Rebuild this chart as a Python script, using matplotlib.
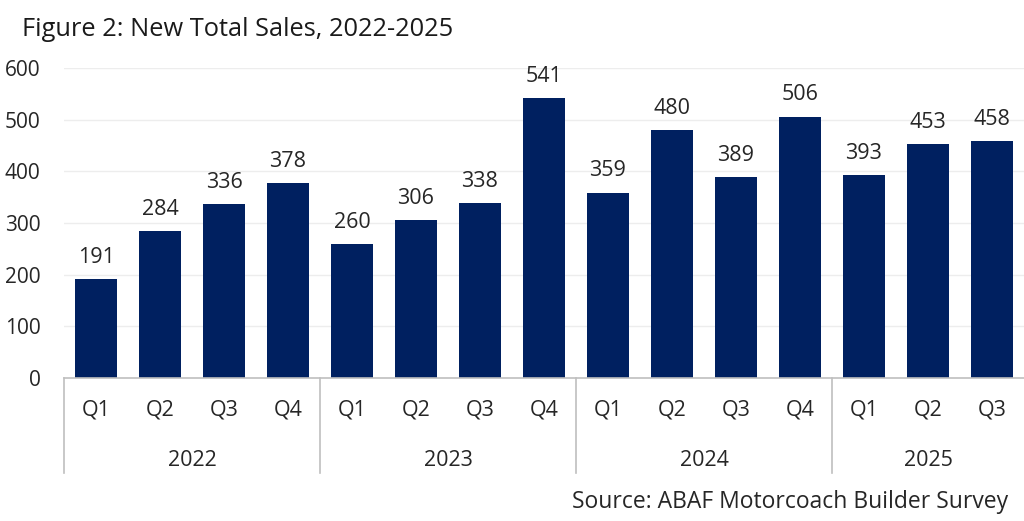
import matplotlib
matplotlib.use("Agg")
import matplotlib.pyplot as plt
from matplotlib.lines import Line2D

years = ["2022", "2023", "2024", "2025"]
quarters = ["Q1", "Q2", "Q3", "Q4", "Q1", "Q2", "Q3", "Q4", "Q1", "Q2", "Q3", "Q4", "Q1", "Q2", "Q3"]
sales = [191, 284, 336, 378, 260, 306, 338, 541, 359, 480, 389, 506, 393, 453, 458]
year_counts = [4, 4, 4, 3]
yticks = [0, 100, 200, 300, 400, 500, 600]

plt.rcParams['font.family'] = ['Open Sans', 'DejaVu Sans']
TXT = '#262626'
BAR = '#002060'
FS = 15.5

fig = plt.figure(figsize=(10.24, 5.21), dpi=100)
ax = fig.add_axes([64/1024, 1-378/521, 1-64/1024, (378-68)/521])

x = list(range(len(sales)))
bars = ax.bar(x, sales, width=0.66, color=BAR, zorder=3)
for xi, v in zip(x, sales):
    ax.annotate(str(v), (xi, v), xytext=(0, 8), textcoords='offset points',
                ha='center', va='bottom', fontsize=FS, color=TXT)

ax.set_xlim(-0.5, len(sales) - 0.5)
ax.set_ylim(0, 600)
ax.set_yticks(yticks)
ax.set_yticklabels([str(t) for t in yticks], fontsize=15, color=TXT)
ax.tick_params(axis='y', length=0, pad=17)
ax.yaxis.grid(True, color='#EDEDED', linewidth=1, zorder=0)
ax.set_xticks([])
for s in ['top', 'right', 'left']:
    ax.spines[s].set_visible(False)
ax.spines['bottom'].set_color('#BFBFBF')
ax.spines['bottom'].set_linewidth(1.2)
ax.spines['bottom'].set_zorder(4)

trans = ax.get_xaxis_transform()
# quarter labels
for xi, q in zip(x, quarters):
    ax.text(xi, -(410-378)/310, q, transform=trans, ha='center', va='center',
            fontsize=FS, color=TXT)
# year labels and separators
start = 0
bounds = [-0.5]
for yr, n in zip(years, year_counts):
    center = start + (n - 1) / 2
    ax.text(center, -(460-378)/310, yr, transform=trans, ha='center', va='center',
            fontsize=FS, color=TXT)
    start += n
    bounds.append(start - 0.5)
for b in bounds[:-1]:
    ax.add_line(Line2D([b, b], [0, -(473-378)/310], transform=trans, color='#BFBFBF',
                       linewidth=1.2, clip_on=False))

fig.text(22/1024, 1-30/521, "Figure 2: New Total Sales, 2022-2025", ha='left', va='center',
         fontsize=18.3, color='#1a1a1a')
fig.text(1008/1024, 1-502/521, "Source: ABAF Motorcoach Builder Survey", ha='right', va='center',
         fontsize=16.5, color=TXT)

fig.savefig("out.png", dpi=100)
